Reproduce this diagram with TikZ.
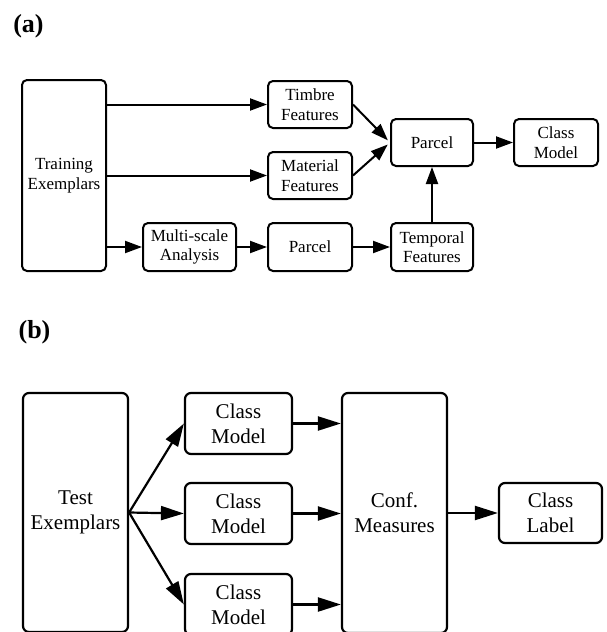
\documentclass[tikz,border=0pt]{standalone}
\usepackage{fontspec}
\setmainfont{Liberation Serif}
\usetikzlibrary{arrows.meta,calc}
\begin{document}
\begin{tikzpicture}[x=1pt,y=-1pt,
  boxa/.style={draw, rounded corners=5pt, line width=2pt, align=center, inner sep=0pt,
    font=\fontsize{17}{19.5}\selectfont},
  boxb/.style={draw, rounded corners=6pt, line width=2.2pt, align=center, inner sep=0pt,
    font=\fontsize{21}{25}\selectfont},
  arra/.style={line width=2pt, -{Triangle[length=17pt,width=12pt]}},
  arrb/.style={line width=2.2pt, -{Triangle[length=23pt,width=14pt]}},
  lab/.style={font=\fontsize{26}{30}\selectfont\bfseries, inner sep=0pt}]
\useasboundingbox (0,0) rectangle (607,632);
% (a)
\node[lab] (la) at (28.5,26) {(a)};
\node[boxa, minimum width=84pt, minimum height=191pt] (train) at (64,175.5) {Training\\Exemplars};
\node[boxa, minimum width=84pt, minimum height=47pt] (timbre) at (310,104.5) {Timbre\\Features};
\node[boxa, minimum width=84pt, minimum height=47pt] (material) at (310,175.5) {Material\\Features};
\node[boxa, minimum width=93pt, minimum height=48pt] (multi) at (189.5,247) {Multi-scale\\Analysis};
\node[boxa, minimum width=84pt, minimum height=48pt] (parcelL) at (310,247) {Parcel};
\node[boxa, minimum width=82pt, minimum height=48pt] (temporal) at (432,247) {Temporal\\Features};
\node[boxa, minimum width=82pt, minimum height=47pt] (parcelU) at (432,142.5) {Parcel};
\node[boxa, minimum width=84pt, minimum height=47pt] (classA) at (556,142.5) {Class\\Model};
\draw[arra] (train.east |- timbre.west) -- (timbre.west);
\draw[arra] (train.east |- material.west) -- (material.west);
\draw[arra] (train.east |- multi.west) -- (multi.west);
\draw[arra] (multi.east) -- (parcelL.west);
\draw[arra] (parcelL.east) -- (temporal.west);
\draw[arra, shorten >=3pt] (timbre.east) -- (parcelU.west);
\draw[arra, shorten >=3pt] (material.east) -- (parcelU.west);
\draw[arra] (temporal.north) -- (parcelU.south);
\draw[arra] (parcelU.east) -- (classA.west);
% (b)
\node[lab] (lb) at (34.5,332) {(b)};
\node[boxb, minimum width=105pt, minimum height=239pt] (test) at (75.5,512.5) {Test\\Exemplars};
\node[boxb, minimum width=107pt, minimum height=61pt] (cm1) at (238.5,423.5) {Class\\Model};
\node[boxb, minimum width=107pt, minimum height=61pt] (cm2) at (238.5,513.5) {Class\\Model};
\node[boxb, minimum width=107pt, minimum height=61pt] (cm3) at (238.5,604.5) {Class\\Model};
\node[boxb, minimum width=105pt, minimum height=240pt] (conf) at (394.5,513) {Conf.\\Measures};
\node[boxb, minimum width=103pt, minimum height=60pt] (label) at (550.5,513) {Class\\Label};
\draw[arrb] (test.east) -- (cm1.west);
\draw[arrb] (test.east) -- (cm2.west);
\draw[arrb] (test.east) -- (cm3.west);
\draw[arrb] (cm1.east) -- (cm1.east -| conf.west);
\draw[arrb] (cm2.east) -- (cm2.east -| conf.west);
\draw[arrb] (cm3.east) -- (cm3.east -| conf.west);
\draw[arrb] (conf.east) -- (label.west);
\end{tikzpicture}
\end{document}
